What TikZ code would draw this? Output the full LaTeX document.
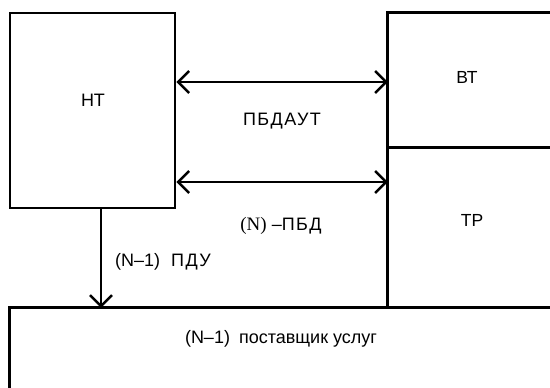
\documentclass[tikz,border=0pt]{standalone}
\usepackage{fontspec}
\setmainfont{Liberation Sans}
\newfontfamily\serifN{Liberation Serif}
\newfontfamily\wideS[LetterSpace=8]{Liberation Sans}
\usetikzlibrary{arrows.meta}
\tikzset{
  boxline/.style={line width=2.8pt, line cap=rect},
  conn/.style={line width=2.6pt, arrows={Straight Barb[length=11pt,width=22pt,line width=2.4pt]-Straight Barb[length=11pt,width=22pt,line width=2.4pt]}},
  dconn/.style={line width=2.4pt, arrows={-Straight Barb[length=11pt,width=22pt,line width=2.4pt]}},
  lbl/.style={font=\fontsize{18}{21}\selectfont, inner sep=0pt},
  slbl/.style={font=\fontsize{17.5}{20}\selectfont, inner sep=0pt},
}
\begin{document}
\begin{tikzpicture}[x=1pt,y=-1pt]
\useasboundingbox (0,0) rectangle (550,388);
% boxes
\node[draw, boxline, minimum width=165pt, minimum height=195pt, inner sep=0pt] (nt) at (92.5,110.5) {};
\node[lbl] (ntl) at (93,100) {НТ};
\node[minimum width=162pt, minimum height=134pt, inner sep=0pt] (vt) at (469,80) {};
\node[minimum width=162pt, minimum height=160pt, inner sep=0pt] (tr) at (469,227) {};
\node[slbl] (vtl) at (467,77) {ВТ};
\node[slbl] (trl) at (472,220) {ТР};
\draw[boxline] (vt.north east) -- (vt.north west) -- (tr.south west) -- (tr.south east);
\draw[boxline] (vt.south west) -- (vt.south east);
\node[minimum width=540pt, minimum height=80pt, inner sep=0pt] (pu) at (280,348) {};
\draw[boxline] (pu.south west) -- (pu.north west) -- (pu.north east);
\node[lbl] (pul) at (281,339) {(N–1)\hspace{4pt} поставщик услуг};
% connectors
\coordinate (a1) at (0,82);
\coordinate (a2) at (0,182);
\coordinate (d) at (101,0);
\draw[conn] (nt.east |- a1) -- (vt.west |- a1);
\draw[conn] (nt.east |- a2) -- (tr.west |- a2);
\draw[dconn] (nt.south -| d) -- (pu.north -| d);
\node[lbl] (l1) at (282,121) {\wideS ПБДАУТ};
\node[lbl] (l2) at (281,226) {{\serifN\fontsize{19}{21}\selectfont (N)} –{\wideS ПБД}};
\node[lbl, anchor=west] (l3) at (115,262) {(N–1)\hspace{6pt} {\wideS ПДУ}};
\end{tikzpicture}
\end{document}
